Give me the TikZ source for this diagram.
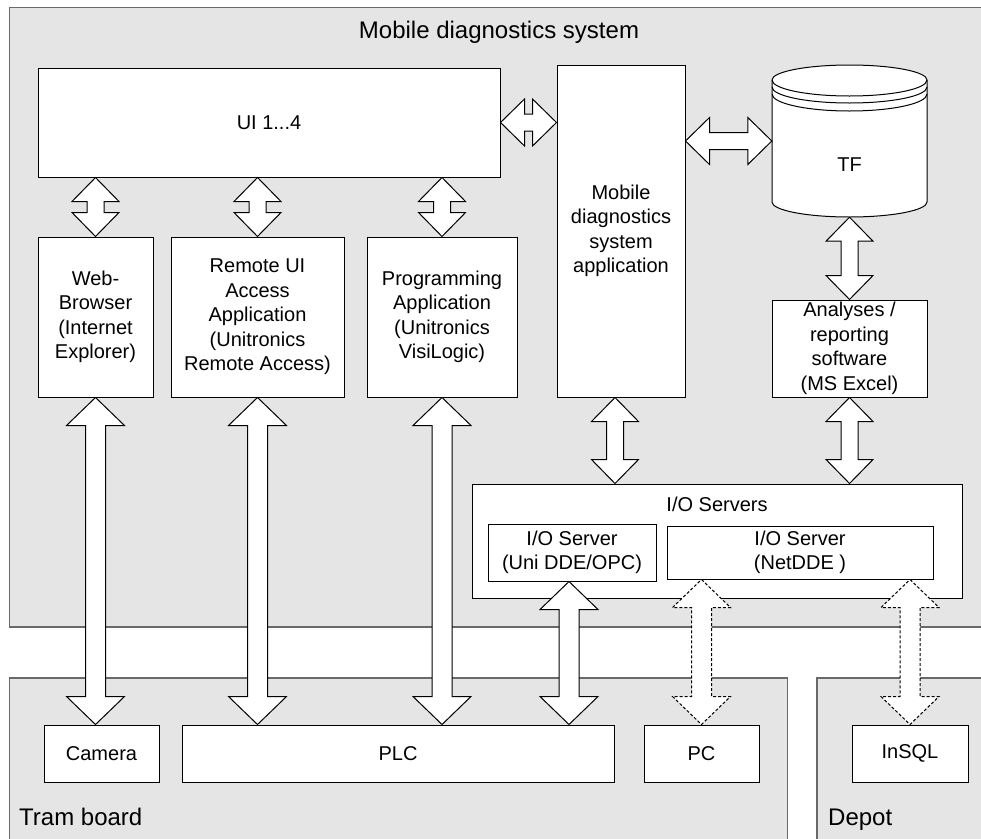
\documentclass[tikz,border=0pt]{standalone}
\usepackage{fontspec}
\setmainfont{Liberation Sans}
\usetikzlibrary{calc}
\definecolor{regiongray}{RGB}{229,229,229}
\definecolor{edgegray}{RGB}{105,105,105}
\newcommand\boxfont{\fontsize{20}{24.5}\selectfont}
\newcommand\regionfont{\fontsize{24}{28}\selectfont}
% double-headed block arrow: [style]{from}{to}{shaft half width}{head half width}{head length}
\newcommand\dblarrow[6][]{%
  \path #2 coordinate (ba-s) #3 coordinate (ba-e);
  \coordinate (ba-a) at ($(ba-s)!#6!(ba-e)$);
  \coordinate (ba-b) at ($(ba-e)!#6!(ba-s)$);
  \draw[arrowbody,#1] (ba-s)
    -- ($(ba-a)!#5!90:(ba-e)$) -- ($(ba-a)!#4!90:(ba-e)$)
    -- ($(ba-b)!#4!90:(ba-e)$) -- ($(ba-b)!#5!90:(ba-e)$)
    -- (ba-e)
    -- ($(ba-b)!#5!-90:(ba-e)$) -- ($(ba-b)!#4!-90:(ba-e)$)
    -- ($(ba-a)!#4!-90:(ba-e)$) -- ($(ba-a)!#5!-90:(ba-e)$)
    -- cycle;}
\newcommand\shortarrow[3][]{\dblarrow[#1]{#2}{#3}{8.5pt}{23.5pt}{24pt}}
\newcommand\longarrow[3][]{\dblarrow[#1]{#2}{#3}{10pt}{29pt}{28pt}}
\begin{document}
\begin{tikzpicture}[x=1pt,y=-1pt,
  region/.style={fill=regiongray, draw=edgegray, line width=1.2pt},
  box/.style={draw=black, fill=white, line width=1pt, inner sep=0pt, align=center, font=\boxfont},
  txt/.style={font=\boxfont, align=center, inner sep=0pt},
  arrowbody/.style={draw=black, fill=white, line width=1pt, line join=miter},
  netlink/.style={dash pattern=on 3pt off 2pt},
]
\useasboundingbox (0,0) rectangle (981,838);
\clip (0,0) rectangle (981,838);

% areas
\draw[region] (9.5,7.5) rectangle (995,627);
\draw[region] (9.5,678) rectangle (787.5,850);
\draw[region] (817,678) rectangle (995,850);
\node[font=\regionfont, anchor=base, inner sep=0pt] (title) at (499,38) {Mobile diagnostics system};
\node[font=\regionfont, anchor=base west, inner sep=0pt] (tramlabel) at (19,825) {Tram board};
\node[font=\regionfont, anchor=base west, inner sep=0pt] (depotlabel) at (828,825) {Depot};

% mobile diagnostics system
\node[box, minimum width=462pt, minimum height=109pt] (ui) at (269,122.5) {UI 1...4};
\node[box, minimum width=128pt, minimum height=332pt] (mob) at (621,231) {Mobile\\diagnostics\\system\\application};
\node[box, minimum width=115pt, minimum height=160pt] (web) at (95.5,317) {Web-\\Browser\\(Internet\\Explorer)};
\node[box, minimum width=173pt, minimum height=160pt] (rem) at (257.5,317) {Remote UI\\Access\\Application\\(Unitronics\\Remote Access)};
\node[box, minimum width=150pt, minimum height=160pt] (prog) at (442,317) {Programming\\Application\\(Unitronics\\VisiLogic)};
\node[box, minimum width=155pt, minimum height=97pt] (ana) at (849.5,348.5) {Analyses /\\reporting\\software\\(MS Excel)};

% database TF
\node[inner sep=0pt, minimum width=155pt, minimum height=152pt] (cyl) at (849.5,141) {};
\draw[fill=white, line width=1pt] (772,80) -- (772,202)
  arc[start angle=180, end angle=360, x radius=77.5pt, y radius=15pt] -- (927,80)
  arc[start angle=0, end angle=180, x radius=77.5pt, y radius=15pt] -- cycle;
\draw[line width=1pt] (772,80) arc[start angle=180, end angle=360, x radius=77.5pt, y radius=16pt];
\draw[line width=1pt] (772,87) arc[start angle=180, end angle=360, x radius=77.5pt, y radius=16pt];
\draw[line width=1pt] (772,94) arc[start angle=180, end angle=360, x radius=77.5pt, y radius=17pt];
\node[txt] (tf) at (849.5,165) {TF};

% I/O servers
\node[box, minimum width=490pt, minimum height=114pt] (io) at (717,541) {};
\node[txt] (iolabel) at (717,504) {I/O Servers};
\node[box, minimum width=168pt, minimum height=57pt] (uni) at (572,552.5) {I/O Server\\(Uni DDE/OPC)};
\node[box, minimum width=266pt, minimum height=53pt] (net) at (800,552.5) {I/O Server\\(NetDDE )};

% tram board and depot devices
\node[box, minimum width=115pt, minimum height=57pt] (cam) at (101.5,753.5) {Camera};
\node[box, minimum width=432pt, minimum height=57pt] (plc) at (398,753.5) {PLC};
\node[box, minimum width=115pt, minimum height=57pt] (pc) at (701.5,753.5) {PC};
\node[box, minimum width=116pt, minimum height=57pt] (insql) at (910,753.5) {InSQL};

% short links
\shortarrow{(ui.east)}{(ui.east -| mob.west)}
\shortarrow{(cyl.west -| mob.east)}{(cyl.west)}
\shortarrow{(web.north |- ui.south)}{(web.north)}
\shortarrow{(rem.north |- ui.south)}{(rem.north)}
\shortarrow{(prog.north |- ui.south)}{(prog.north)}
\shortarrow{(cyl.south)}{(ana.north)}
\coordinate (mobtap) at ($(mob.south)+(-6,0)$);
\shortarrow{(mobtap)}{(mobtap |- io.north)}
\shortarrow{(ana.south)}{(ana.south |- io.north)}

% long links to the devices
\longarrow{(web.south)}{(web.south |- cam.north)}
\longarrow{(rem.south)}{(rem.south |- plc.north)}
\longarrow{(prog.south)}{(prog.south |- plc.north)}
\coordinate (unitap) at ($(uni.south)+(-3,0)$);
\longarrow{(unitap)}{(unitap |- plc.north)}
\longarrow[netlink]{(pc.north |- net.south)}{(pc.north)}
\longarrow[netlink]{(insql.north |- net.south)}{(insql.north)}
\end{tikzpicture}
\end{document}
